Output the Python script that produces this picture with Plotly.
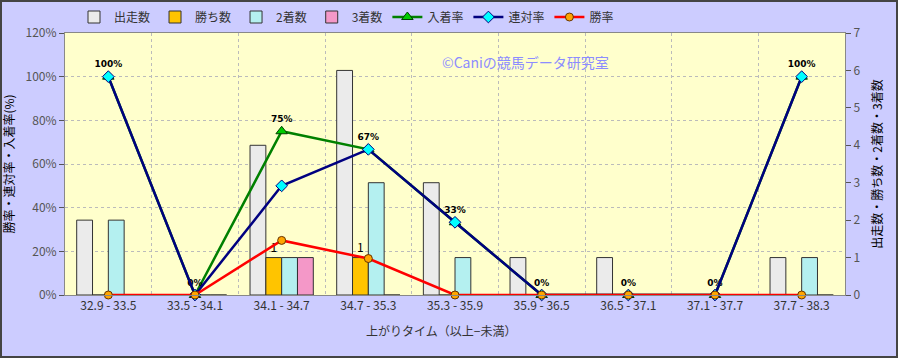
import plotly.graph_objects as go

categories = ["32.9 - 33.5", "33.5 - 34.1", "34.1 - 34.7", "34.7 - 35.3", "35.3 - 35.9",
              "35.9 - 36.5", "36.5 - 37.1", "37.1 - 37.7", "37.7 - 38.3"]
runs = [2, 0, 4, 6, 3, 1, 1, 0, 1]
wins = [0, 0, 1, 1, 0, 0, 0, 0, 0]
seconds = [2, 0, 1, 3, 1, 0, 0, 0, 1]
thirds = [0, 0, 1, 0, 0, 0, 0, 0, 0]
place_rate = [100, 0, 75, 66.7, 33.3, 0, 0, 0, 100]
quinella_rate = [100, 0, 50, 66.7, 33.3, 0, 0, 0, 100]
win_rate = [0, 0, 25, 16.7, 0, 0, 0, 0, 0]
place_labels = ["100%", "0%", "75%", "67%", "33%", "0%", "0%", "0%", "100%"]
win_labels = ["", "", "1", "1", "", "", "", "", ""]

FONT = "Noto Sans CJK JP"
fig = go.Figure()

bar_line = dict(color="#333333", width=1)
fig.add_bar(x=categories, y=runs, name="出走数", marker=dict(color="#EBEBEB", line=bar_line), yaxis="y")
fig.add_bar(x=categories, y=wins, name="勝ち数", marker=dict(color="#FFC400", line=bar_line), yaxis="y",
            text=win_labels, textposition="outside", textfont=dict(size=12, color="#000000"), cliponaxis=False)
fig.add_bar(x=categories, y=seconds, name="2着数", marker=dict(color="#B4F0F0", line=bar_line), yaxis="y")
fig.add_bar(x=categories, y=thirds, name="3着数", marker=dict(color="#F498C8", line=bar_line), yaxis="y")

fig.add_scatter(x=categories, y=place_rate, name="入着率", yaxis="y2", mode="lines+markers+text",
                line=dict(color="#008000", width=2.5),
                marker=dict(symbol="triangle-up", size=10, color="#00CC00", line=dict(color="#004000", width=1)),
                text=place_labels, textposition="top center",
                textfont=dict(size=9, color="#000000", family="DejaVu Sans, " + FONT, weight="bold"),
                cliponaxis=False)
fig.add_scatter(x=categories, y=quinella_rate, name="連対率", yaxis="y2", mode="lines+markers",
                line=dict(color="#000080", width=2.5),
                marker=dict(symbol="diamond", size=9, color="#00FFFF", line=dict(color="#000080", width=1)),
                cliponaxis=False)
fig.add_scatter(x=categories, y=win_rate, name="勝率", yaxis="y2", mode="lines+markers",
                line=dict(color="#FF0000", width=2.5),
                marker=dict(symbol="circle", size=8, color="#FFA500", line=dict(color="#663300", width=1)),
                cliponaxis=False)

W, H = 898, 358
ml, mr, mt, mb = 65, 53, 33, 63
pw, ph = W - ml - mr, H - mt - mb

fig.update_layout(
    width=W, height=H,
    margin=dict(l=ml, r=mr, t=mt, b=mb, autoexpand=False),
    paper_bgcolor="#CCCCFF",
    plot_bgcolor="#FFFFCC",
    font=dict(family=FONT, size=12, color="#333333"),
    barmode="group", bargap=0.27, bargroupgap=0,
    showlegend=True,
    legend=dict(orientation="h", x=9 / pw, xanchor="left", y=1 + 16 / ph, yanchor="middle",
                bgcolor="rgba(0,0,0,0)", font=dict(size=12, color="#333333"),
                itemwidth=30, tracegroupgap=0),
    xaxis=dict(type="category", tickson="boundaries", showgrid=True, gridcolor="#BBBBBB", griddash="dot",
               showline=True, linecolor="#888888", mirror=True, ticks="", tickfont=dict(size=12, color="#333333"),
               range=[-0.5, 8.5]),
    yaxis=dict(side="right", range=[0, 7], dtick=1, showgrid=False, showline=True, linecolor="#888888",
               ticks="outside", ticklen=5, tickcolor="#555555", tickfont=dict(size=12, color="#555555"),
               title=dict(text="出走数・勝ち数・2着数・3着数", font=dict(size=12, color="#000000"), standoff=14),
               zeroline=False),
    yaxis2=dict(side="left", overlaying="y", range=[0, 120], dtick=20, ticksuffix="%",
                showgrid=True, gridcolor="#BBBBBB", griddash="dot", showline=True, linecolor="#888888",
                ticks="outside", ticklen=5, tickcolor="#555555", tickfont=dict(size=12, color="#555555"),
                title=dict(text="勝率・連対率・入着率(%)", font=dict(size=12, color="#000000"), standoff=8),
                zeroline=False),
    annotations=[
        dict(text="©Caniの競馬データ研究室", xref="paper", yref="paper", x=(525 - ml) / pw, y=(295 - 50) / ph,
             showarrow=False, font=dict(size=14, color="#8C8CFF")),
        dict(text="上がりタイム（以上−未満）", xref="paper", yref="paper", x=(441 - ml) / pw, y=-(330 - 295) / ph,
             showarrow=False, font=dict(size=12, color="#333333"), yanchor="middle"),
    ],
    shapes=[dict(type="rect", xref="paper", yref="paper", x0=-(ml - 1) / pw, x1=1 + (mr - 1) / pw,
                 y0=-(mb - 1) / ph, y1=1 + (mt - 1) / ph, line=dict(color="#444444", width=2), layer="above")],
)

fig.write_html("out.html", config={"displayModeBar": False},
               post_script="document.body.style.margin='0';document.body.style.overflow='hidden';")
